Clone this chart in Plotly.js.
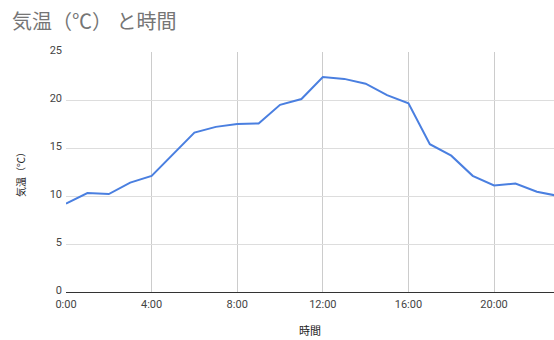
<!DOCTYPE html>
<html>
<head>
<meta charset="utf-8">
<script src="https://cdn.plot.ly/plotly-3.0.1.min.js"></script>
<style>html,body{margin:0;padding:0;background:#fff;}#chart{width:554px;height:340px;}</style>
</head>
<body>
<div id="chart"></div>
<script>
const hours = [0,1,2,3,4,5,6,7,8,9,10,11,12,13,14,15,16,17,18,19,20,21,22,23];
const temps = [9.2,10.3,10.2,11.4,12.1,14.3,16.6,17.2,17.5,17.55,19.5,20.1,22.4,22.2,21.7,20.5,19.65,15.4,14.2,12.1,11.1,11.3,10.45,10.0];
const tickHours = [0,4,8,12,16,20];
const tickLabels = ["0:00","4:00","8:00","12:00","16:00","20:00"];
const yTicks = [0,5,10,15,20,25];

const trace = {
  x: hours, y: temps, type: 'scatter', mode: 'lines',
  line: {color: '#4a7fe0', width: 2},
  hoverinfo: 'skip'
};
const layout = {
  width: 554, height: 340,
  margin: {l: 66, r: 0, t: 52, b: 48},
  paper_bgcolor: '#fff', plot_bgcolor: '#fff',
  showlegend: false,
  title: {
    text: '気温（℃） と時間',
    x: 12/554, xanchor: 'left', xref: 'container',
    y: 1 - 22/340, yanchor: 'middle', yref: 'container',
    font: {family: '"Noto Sans CJK JP", sans-serif', size: 20, color: '#757575'}
  },
  xaxis: {
    range: [0, 22.8],
    tickvals: tickHours, ticktext: tickLabels,
    showgrid: true, gridcolor: '#cccccc', gridwidth: 1,
    zeroline: false, showline: true, linecolor: '#333333', linewidth: 1,
    ticks: '', ticklabelstandoff: 2,
    tickfont: {family: 'Roboto, Arial, sans-serif', size: 11, color: '#444'},
    title: {text: '時間', standoff: 17, font: {family: '"Noto Sans CJK JP", sans-serif', size: 11, color: '#222'}}
  },
  yaxis: {
    range: [0, 25],
    tickvals: yTicks,
    showgrid: true, gridcolor: '#dddddd', gridwidth: 1,
    zeroline: false, showline: false,
    ticks: '', ticklabelstandoff: 3, ticklabelshift: -2,
    tickfont: {family: 'Roboto, Arial, sans-serif', size: 11, color: '#444'},
    title: {text: '気温（℃）', standoff: 22, font: {family: '"Noto Sans CJK JP", sans-serif', size: 10, color: '#222'}}
  }
};
Plotly.newPlot('chart', [trace], layout, {displayModeBar: false, staticPlot: true});
</script>
</body>
</html>
